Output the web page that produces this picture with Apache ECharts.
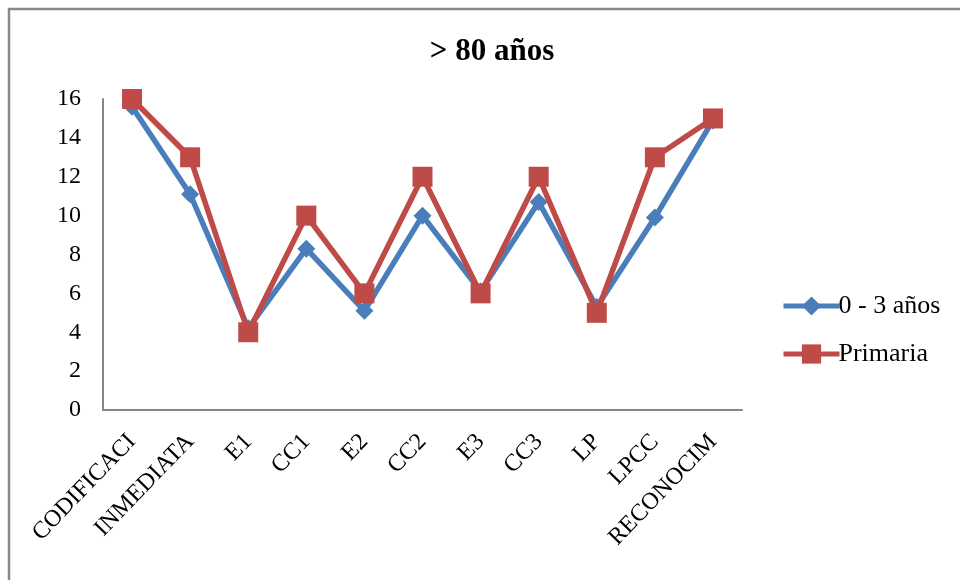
<!DOCTYPE html>
<html>
<head>
<meta charset="utf-8">
<style>
  html, body { margin: 0; padding: 0; background: #fff; }
  #chart { width: 960px; height: 580px; }
</style>
<script src="https://cdn.jsdelivr.net/npm/echarts@6/dist/echarts.min.js"></script>
</head>
<body>
<div id="chart"></div>
<script>
// Test categories along the x axis
const categories = ['CODIFICACI', 'INMEDIATA', 'E1', 'CC1', 'E2', 'CC2', 'E3', 'CC3', 'LP', 'LPCC', 'RECONOCIM'];

// Mean scores per schooling group
const seriesNames = ['0 - 3 años', 'Primaria'];
const group0to3 = [15.6, 11.1, 4.2, 8.3, 5.1, 10.0, 6.1, 10.7, 5.3, 9.9, 14.9];
const primaria  = [16.0, 13.0, 4.0, 10.0, 6.0, 12.0, 6.0, 12.0, 5.0, 13.0, 15.0];

// Y axis range
const yMin = 0, yMax = 16, yStep = 2;

const serif = '"Liberation Serif", "DejaVu Serif", serif';
const blue = '#4A7EBB';
const red = '#BE4B48';

const chart = echarts.init(document.getElementById('chart'), null, { renderer: 'canvas' });

chart.setOption({
  backgroundColor: '#fff',
  animation: false,
  title: {
    text: '> 80 años',
    left: 487,
    top: 31,
    textAlign: 'center',
    textStyle: { fontFamily: serif, fontSize: 31, fontWeight: 'bold', color: '#000' }
  },
  graphic: [
    // chart-area frame (top and left edges)
    { type: 'line', shape: { x1: 8, y1: 9, x2: 960, y2: 9 }, style: { stroke: '#888', lineWidth: 2.5 }, silent: true },
    { type: 'line', shape: { x1: 9, y1: 8, x2: 9, y2: 580 }, style: { stroke: '#888', lineWidth: 2.5 }, silent: true }
  ],
  legend: {
    orient: 'vertical',
    left: 776,
    top: 288,
    itemWidth: 56,
    itemHeight: 24,
    itemGap: 22,
    lineStyle: { width: 5 },
    textStyle: { fontFamily: serif, fontSize: 26, color: '#000', padding: [0, 0, 0, -6] },
    data: seriesNames
  },
  grid: { left: 103, right: 218, top: 99, bottom: 170 },
  xAxis: {
    type: 'category',
    data: categories,
    boundaryGap: true,
    axisLine: { lineStyle: { color: '#868686', width: 2 } },
    axisTick: { show: false },
    axisLabel: {
      rotate: 46,
      interval: 0,
      margin: 28,
      fontFamily: serif,
      fontSize: 24,
      color: '#000'
    }
  },
  yAxis: {
    type: 'value',
    min: yMin,
    max: yMax,
    interval: yStep,
    splitLine: { show: false },
    axisLine: { show: true, lineStyle: { color: '#868686', width: 2 } },
    axisTick: { show: false },
    axisLabel: { fontFamily: serif, fontSize: 24, color: '#000', margin: 22 }
  },
  series: [
    {
      name: seriesNames[0],
      type: 'line',
      data: group0to3,
      symbol: 'diamond',
      symbolSize: 18,
      lineStyle: { color: blue, width: 5.5 },
      itemStyle: { color: blue },
      z: 2
    },
    {
      name: seriesNames[1],
      type: 'line',
      data: primaria,
      symbol: 'rect',
      symbolSize: 20,
      lineStyle: { color: red, width: 5.5 },
      itemStyle: { color: red },
      z: 3
    }
  ]
});
</script>
</body>
</html>
